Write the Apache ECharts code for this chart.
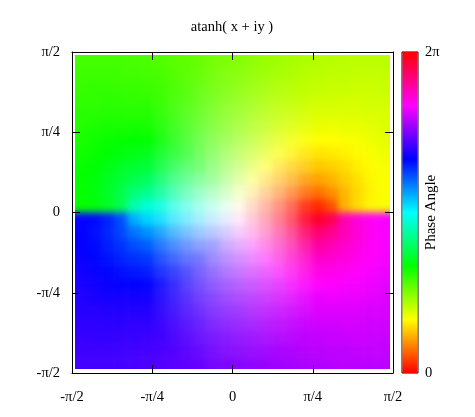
<!DOCTYPE html>
<html>
<head>
<meta charset="utf-8">
<script src="https://cdn.jsdelivr.net/npm/echarts@6/dist/echarts.min.js"></script>
<style>
html, body { margin: 0; padding: 0; background: #fff; }
#field, #main { position: absolute; left: 0; top: 0; width: 475px; height: 417px; }
/* soft look of the reference comes from the blur, the clip keeps its edges crisp */
#field { filter: blur(3.5px); clip-path: inset(55px 85px 48px 75px); }
</style>
</head>
<body>
<div id="field"></div>
<div id="main"></div>
<script>
var PI = Math.PI;
var tickLabels = { '-2': '-π/2', '-1': '-π/4', '0': '0', '1': 'π/4', '2': 'π/2' };
var colorbarLabels = ['0', '2π'];
var colorbarStops = ['#ff0000', '#ffff00', '#00ff00', '#00ffff', '#0000ff', '#ff00ff', '#ff0000'];

// cell centres, radians
var cellX = [-1.481, -1.352, -1.224, -1.095, -0.966, -0.837, -0.708, -0.580, -0.451, -0.322, -0.193, -0.064,
    0.064, 0.193, 0.322, 0.451, 0.580, 0.708, 0.837, 0.966, 1.095, 1.224, 1.352, 1.481];
var cellY = [1.481, 1.352, 1.224, 1.095, 0.966, 0.837, 0.708, 0.580, 0.451, 0.322, 0.193, 0.064,
    -0.064, -0.193, -0.322, -0.451, -0.580, -0.708, -0.837, -0.966, -1.095, -1.224, -1.352, -1.481];
var cellSize = 0.1288;

// phase angle in degrees, top row first
var hueRows = [
    [104,104,104,104,103,102,101,99,98,96,93,91,89,87,84,82,81,79,78,77,76,76,76,76],
    [106,106,106,105,105,104,103,101,99,97,94,91,89,86,83,81,79,77,76,75,75,74,74,74],
    [107,108,108,107,107,106,105,103,101,98,95,92,88,85,82,79,77,75,74,73,73,72,72,73],
    [109,109,110,110,109,109,107,105,103,100,96,92,88,84,80,77,75,73,71,71,70,70,71,71],
    [111,111,112,112,112,112,110,108,105,102,97,92,88,83,78,75,72,70,68,68,68,68,69,69],
    [112,114,115,115,116,115,114,112,109,104,99,93,87,81,76,71,68,66,65,64,65,65,66,68],
    [114,116,118,119,120,120,119,117,113,108,101,94,86,79,72,67,63,61,60,60,61,62,64,66],
    [116,118,121,123,125,126,126,123,119,113,105,95,85,75,67,61,57,54,54,55,57,59,62,64],
    [118,121,124,128,131,133,133,132,128,120,110,97,83,70,60,52,48,47,47,49,52,56,59,62],
    [119,122,127,132,138,142,144,142,138,131,119,100,80,61,49,42,38,36,38,42,48,53,58,61],
    [119,123,129,137,147,154,156,156,153,147,134,108,72,46,33,27,24,24,26,33,43,51,57,61],
    [118,122,128,138,161,170,172,172,171,168,161,135,45,19,12,9,8,8,10,19,42,52,58,62],
    [242,238,232,222,199,190,188,188,189,192,199,225,315,341,348,351,352,352,350,341,318,308,302,298],
    [241,237,231,223,213,206,204,204,207,213,226,252,288,314,327,333,336,336,334,327,317,309,303,299],
    [241,238,233,228,222,218,216,218,222,229,241,260,280,299,311,318,322,324,322,318,312,307,302,299],
    [242,239,236,232,229,227,227,228,232,240,250,263,277,290,300,308,312,313,313,311,308,304,301,298],
    [244,242,239,237,235,234,234,237,241,247,255,265,275,285,293,299,303,306,306,305,303,301,298,296],
    [246,244,242,241,240,240,241,243,247,252,259,266,274,281,288,293,297,299,300,300,299,298,296,294],
    [248,246,245,245,244,245,246,248,251,256,261,267,273,279,284,289,292,294,295,296,295,295,294,292],
    [249,249,248,248,248,248,250,252,255,258,263,268,272,277,282,285,288,290,292,292,292,292,291,291],
    [251,251,250,250,251,251,253,255,257,260,264,268,272,276,280,283,285,287,289,289,290,290,289,289],
    [253,252,252,253,253,254,255,257,259,262,265,268,272,275,278,281,283,285,286,287,287,288,288,287],
    [254,254,254,255,255,256,257,259,261,263,266,269,271,274,277,279,281,283,284,285,285,286,286,286],
    [256,256,256,256,257,258,259,261,262,264,267,269,271,273,276,278,279,281,282,283,284,284,284,284]
];

// colour strength in percent, 0 is white
var satRows = [
    [100,100,100,100,100,100,100,100,100,100,98,98,98,98,100,100,100,100,100,100,100,100,100,100],
    [100,100,100,100,100,100,100,100,98,96,94,93,93,94,96,98,100,100,100,100,100,100,100,100],
    [100,100,100,100,100,100,100,97,94,91,90,89,89,90,91,94,97,100,100,100,100,100,100,100],
    [100,100,100,100,100,100,98,94,90,87,84,83,83,84,87,90,94,98,100,100,100,100,100,100],
    [100,100,100,100,100,100,95,90,85,81,78,77,77,78,81,85,90,95,100,100,100,100,100,100],
    [100,100,100,100,100,100,93,86,80,75,72,70,70,72,75,80,86,93,100,100,100,100,100,100],
    [100,100,100,100,100,99,90,82,74,68,64,62,62,64,68,74,82,90,99,100,100,100,100,100],
    [100,100,100,100,100,99,88,78,68,61,56,53,53,56,61,68,78,88,99,100,100,100,100,100],
    [100,100,100,100,100,100,86,74,62,53,46,43,43,46,53,62,74,86,100,100,100,100,100,100],
    [100,100,100,100,100,100,86,70,57,45,37,32,32,37,45,57,70,86,100,100,100,100,100,100],
    [100,100,100,100,100,100,87,68,52,38,27,20,20,27,38,52,68,87,100,100,100,100,100,100],
    [100,100,100,100,100,100,88,66,49,34,21,9,9,21,34,49,66,88,100,100,100,100,100,100],
    [100,100,100,100,100,100,88,66,49,34,21,9,9,21,34,49,66,88,100,100,100,100,100,100],
    [100,100,100,100,100,100,87,68,52,38,27,20,20,27,38,52,68,87,100,100,100,100,100,100],
    [100,100,100,100,100,100,86,70,57,45,37,32,32,37,45,57,70,86,100,100,100,100,100,100],
    [100,100,100,100,100,100,86,74,62,53,46,43,43,46,53,62,74,86,100,100,100,100,100,100],
    [100,100,100,100,100,99,88,78,68,61,56,53,53,56,61,68,78,88,99,100,100,100,100,100],
    [100,100,100,100,100,99,90,82,74,68,64,62,62,64,68,74,82,90,99,100,100,100,100,100],
    [100,100,100,100,100,100,93,86,80,75,72,70,70,72,75,80,86,93,100,100,100,100,100,100],
    [100,100,100,100,100,100,95,90,85,81,78,77,77,78,81,85,90,95,100,100,100,100,100,100],
    [100,100,100,100,100,100,98,94,90,87,84,83,83,84,87,90,94,98,100,100,100,100,100,100],
    [100,100,100,100,100,100,100,97,94,91,90,89,89,90,91,94,97,100,100,100,100,100,100,100],
    [100,100,100,100,100,100,100,100,98,96,94,93,93,94,96,98,100,100,100,100,100,100,100,100],
    [100,100,100,100,100,100,100,100,100,100,98,98,98,98,100,100,100,100,100,100,100,100,100,100]
];

function hsvColor(h, s) {
    var c = s / 100;
    var f = function(n) {
        var k = (n + h / 60) % 6;
        var v = 1 - c * Math.max(0, Math.min(k, 4 - k, 1));
        return Math.round(v * 255);
    };
    return 'rgb(' + f(5) + ',' + f(3) + ',' + f(1) + ')';
}

var cells = [];
cellY.forEach(function(y, r) {
    cellX.forEach(function(x, c) {
        cells.push([x, y, hueRows[r][c], satRows[r][c], c, r]);
    });
});

var last = cellX.length - 1;
var gridBox = { left: 72, top: 52, width: 321, height: 321 };
var serif = '"Liberation Serif", "Times New Roman", serif';

var fieldChart = echarts.init(document.getElementById('field'));
fieldChart.setOption({
    animation: false,
    grid: gridBox,
    xAxis: { type: 'value', min: -PI / 2, max: PI / 2, show: false },
    yAxis: { type: 'value', min: -PI / 2, max: PI / 2, show: false },
    series: [{
        type: 'custom',
        coordinateSystem: 'cartesian2d',
        data: cells,
        silent: true,
        renderItem: function(params, api) {
            var p = api.coord([api.value(0), api.value(1)]);
            var s = api.size([cellSize, cellSize]);
            var c = api.value(4), r = api.value(5);
            // outer cells run on under the clip so the blur does not fade the edge
            var left = p[0] - s[0] / 2 - (c === 0 ? 12 : 0);
            var right = p[0] + s[0] / 2 + (c === last ? 12 : 0) + 0.5;
            var top = p[1] - s[1] / 2 - (r === 0 ? 12 : 0);
            var bottom = p[1] + s[1] / 2 + (r === last ? 12 : 0) + 0.5;
            return {
                type: 'rect',
                shape: { x: left, y: top, width: right - left, height: bottom - top },
                style: { fill: hsvColor(api.value(2), api.value(3)) }
            };
        }
    }]
});

var tickFormat = function(v) {
    return tickLabels[String(Math.round(v / (PI / 4)))];
};
var labelStyle = { color: '#000', fontFamily: serif, fontSize: 14.5 };
var blackLine = { show: true, onZero: false, lineStyle: { color: '#000', width: 1 } };
var innerTick = { show: true, inside: true, length: 8, lineStyle: { color: '#000', width: 1 } };

var mainChart = echarts.init(document.getElementById('main'));
mainChart.setOption({
    animation: false,
    backgroundColor: 'transparent',
    title: {
        text: 'atanh( x + iy )',
        left: 227,
        top: 15,
        textAlign: 'center',
        textStyle: { color: '#000', fontFamily: serif, fontSize: 14.5, fontWeight: 'normal' }
    },
    grid: [
        { left: 72, top: 52, width: 321, height: 321, show: false },
        { left: 402, top: 52, width: 16, height: 321, show: true, borderColor: '#000', borderWidth: 1, backgroundColor: 'transparent' }
    ],
    xAxis: [
        { gridIndex: 0, type: 'value', position: 'bottom', min: -PI / 2, max: PI / 2, interval: PI / 4,
            axisLine: blackLine, axisTick: innerTick, splitLine: { show: false },
            axisLabel: Object.assign({ margin: 17, formatter: tickFormat, showMinLabel: true, showMaxLabel: true }, labelStyle) },
        { gridIndex: 0, type: 'value', position: 'top', min: -PI / 2, max: PI / 2, interval: PI / 4,
            axisLine: blackLine, axisTick: innerTick, splitLine: { show: false }, axisLabel: { show: false } },
        { gridIndex: 1, type: 'category', data: ['Phase Angle'], axisLine: { show: false }, axisTick: { show: false }, axisLabel: { show: false } }
    ],
    yAxis: [
        { gridIndex: 0, type: 'value', position: 'left', min: -PI / 2, max: PI / 2, interval: PI / 4,
            axisLine: blackLine, axisTick: innerTick, splitLine: { show: false },
            axisLabel: Object.assign({ margin: 12, formatter: tickFormat, showMinLabel: true, showMaxLabel: true }, labelStyle) },
        { gridIndex: 0, type: 'value', position: 'right', min: -PI / 2, max: PI / 2, interval: PI / 4,
            axisLine: blackLine, axisTick: innerTick, splitLine: { show: false }, axisLabel: { show: false } },
        { gridIndex: 1, type: 'value', position: 'right', min: 0, max: 2 * PI, interval: 2 * PI,
            name: 'Phase Angle', nameLocation: 'middle', nameRotate: 90, nameGap: 6, nameMoveOverlap: false,
            nameTextStyle: { color: '#000', fontFamily: serif, fontSize: 15 },
            axisLine: { show: false }, axisTick: { show: false }, splitLine: { show: false },
            axisLabel: Object.assign({ margin: 7, formatter: function(v) { return colorbarLabels[v > 0 ? 1 : 0]; } }, labelStyle) }
    ],
    series: [{
        type: 'bar',
        xAxisIndex: 2,
        yAxisIndex: 2,
        barWidth: 15,
        silent: true,
        data: [2 * PI],
        itemStyle: {
            color: {
                type: 'linear', x: 0, y: 1, x2: 0, y2: 0,
                colorStops: colorbarStops.map(function(c, i) {
                    return { offset: i / (colorbarStops.length - 1), color: c };
                })
            }
        }
    }]
});
</script>
</body>
</html>
